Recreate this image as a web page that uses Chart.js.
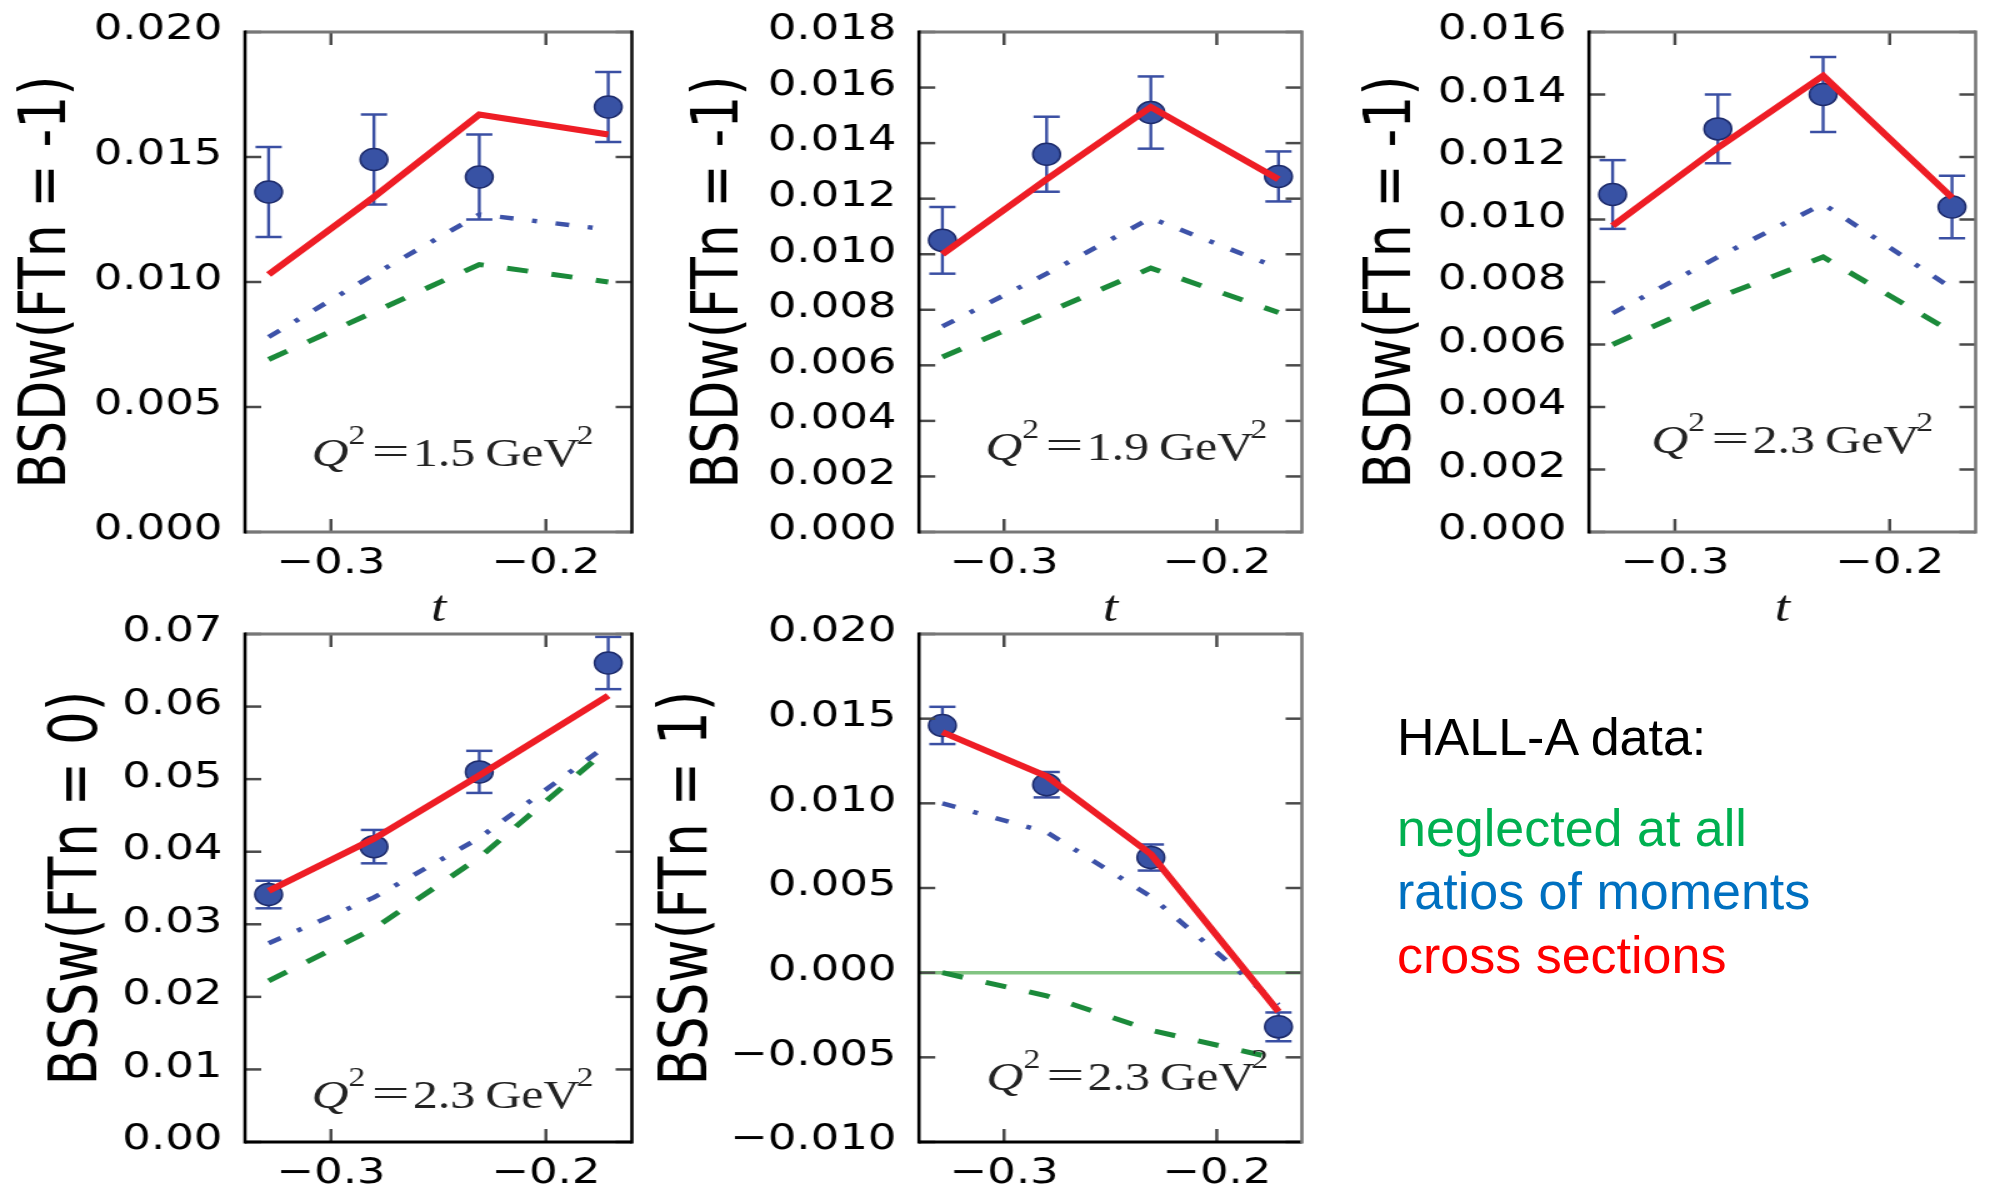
<!DOCTYPE html>
<html>
<head>
<meta charset="utf-8">
<title>Hall-A BSDw / BSSw vs t</title>
<script src="https://cdn.jsdelivr.net/npm/chart.js@4.4.1/dist/chart.umd.min.js"></script>
<style>
  html, body { margin: 0; padding: 0; background: #fff; }
  body { width: 1992px; height: 1185px; position: relative; overflow: hidden; }
  .panel { position: absolute; transform: scaleX(1.25); transform-origin: 0 0; }
  .panel canvas { display: block; }
  .note { position: absolute; left: 1397px; font-family: "Liberation Sans", Arial, sans-serif;
          font-size: 52px; line-height: 52px; white-space: nowrap; }
</style>
</head>
<body>
<div class="panel" style="left:0px;top:0px"><canvas id="p1"></canvas></div>
<div class="panel" style="left:660px;top:0px"><canvas id="p2"></canvas></div>
<div class="panel" style="left:1330px;top:0px"><canvas id="p3"></canvas></div>
<div class="panel" style="left:0px;top:590px"><canvas id="p4"></canvas></div>
<div class="panel" style="left:620px;top:590px"><canvas id="p5"></canvas></div>

<div class="note" style="top:711px;color:#000">HALL-A data:</div>
<div class="note" style="top:802px;color:#00b050">neglected at all</div>
<div class="note" style="top:865px;color:#0070c0">ratios of moments</div>
<div class="note" style="top:929px;color:#ff0000">cross sections</div>

<script>
// t bins of the Hall-A data (same in every panel)
const tValues = [-0.329, -0.280, -0.231, -0.171];
const xRange = [-0.34, -0.16];
const xTicks = [-0.3, -0.2];

// BSDw(FTn = -1), Q^2 = 1.5 GeV^2
const bsdw15Data = [0.0136, 0.0149, 0.0142, 0.0170];
const bsdw15Err = [0.0018, 0.0018, 0.0017, 0.0014];
const bsdw15Cross = [0.0103, 0.0134, 0.0167, 0.0159];
const bsdw15Ratios = [0.0078, 0.0103, 0.0127, 0.0121];
const bsdw15Neglect = [0.0069, 0.0088, 0.0107, 0.0100];

// BSDw(FTn = -1), Q^2 = 1.9 GeV^2
const bsdw19Data = [0.0105, 0.0136, 0.0151, 0.0128];
const bsdw19Err = [0.0012, 0.00135, 0.0013, 0.0009];
const bsdw19Cross = [0.0100, 0.0127, 0.0153, 0.0127];
const bsdw19Ratios = [0.0074, 0.0093, 0.0113, 0.0095];
const bsdw19Neglect = [0.0063, 0.0079, 0.0095, 0.0079];

// BSDw(FTn = -1), Q^2 = 2.3 GeV^2
const bsdw23Data = [0.0108, 0.0129, 0.0140, 0.0104];
const bsdw23Err = [0.0011, 0.0011, 0.0012, 0.0010];
const bsdw23Cross = [0.0098, 0.0123, 0.0146, 0.0107];
const bsdw23Ratios = [0.0070, 0.0088, 0.0105, 0.0078];
const bsdw23Neglect = [0.0060, 0.0075, 0.0088, 0.0064];

// BSSw(FTn = 0), Q^2 = 2.3 GeV^2
const bss0Data = [0.0341, 0.0407, 0.0510, 0.0660];
const bss0Err = [0.0019, 0.0023, 0.0029, 0.0036];
const bss0Cross = [0.0346, 0.0418, 0.0505, 0.0615];
const bss0Ratios = [0.0274, 0.0337, 0.0419, 0.0548];
const bss0Neglect = [0.0222, 0.0294, 0.0392, 0.0542];

// BSSw(FTn = 1), Q^2 = 2.3 GeV^2
const bss1Data = [0.0146, 0.0111, 0.0068, -0.0032];
const bss1Err = [0.0011, 0.00075, 0.00077, 0.00085];
const bss1Cross = [0.0142, 0.0116, 0.0070, -0.0023];
const bss1Ratios = [0.0100, 0.0083, 0.0045, -0.0019];
const bss1Neglect = [0.0000, -0.00137, -0.0034, -0.0051];
const zeroLine = [0, 0];

// y tick values
const yTicks1 = [0, 0.005, 0.010, 0.015, 0.020];
const yTicks2 = [0, 0.002, 0.004, 0.006, 0.008, 0.010, 0.012, 0.014, 0.016, 0.018];
const yTicks3 = [0, 0.002, 0.004, 0.006, 0.008, 0.010, 0.012, 0.014, 0.016];
const yTicks4 = [0, 0.01, 0.02, 0.03, 0.04, 0.05, 0.06, 0.07];
const yTicks5 = [-0.010, -0.005, 0, 0.005, 0.010, 0.015, 0.020];

const STRETCH = 1.25; // the original figure is stretched sideways

const panels = [
  { id: 'p1', left: 0, top: 0, plotL: 245, plotR: 640, plotT: 32, plotB: 532, xAxisH: 104,
    yTicks: yTicks1, digits: 3, title: 'BSDw(FTn = -1)', titleSize: 52, titlePad: 7,
    q2: '1.5', q2Pos: [0.172, 0.132], showT: true,
    data: bsdw15Data, err: bsdw15Err, cross: bsdw15Cross, ratios: bsdw15Ratios, neglect: bsdw15Neglect,
    spines: { left: '#000', right: '#111', top: '#777', bottom: '#777' } },
  { id: 'p2', left: 660, top: 0, plotL: 919, plotR: 1310, plotT: 32, plotB: 532, xAxisH: 104,
    yTicks: yTicks2, digits: 3, title: 'BSDw(FTn = -1)', titleSize: 52, titlePad: 17,
    q2: '1.9', q2Pos: [0.173, 0.144], showT: true,
    data: bsdw19Data, err: bsdw19Err, cross: bsdw19Cross, ratios: bsdw19Ratios, neglect: bsdw19Neglect,
    spines: { left: '#000', right: '#777', top: '#777', bottom: '#777' } },
  { id: 'p3', left: 1330, top: 0, plotL: 1589, plotR: 1984, plotT: 32, plotB: 532, xAxisH: 104,
    yTicks: yTicks3, digits: 3, title: 'BSDw(FTn = -1)', titleSize: 52, titlePad: 19.5,
    q2: '2.3', q2Pos: [0.161, 0.159], showT: true,
    data: bsdw23Data, err: bsdw23Err, cross: bsdw23Cross, ratios: bsdw23Ratios, neglect: bsdw23Neglect,
    spines: { left: '#000', right: '#777', top: '#777', bottom: '#777' } },
  { id: 'p4', left: 0, top: 590, plotL: 245, plotR: 640, plotT: 634, plotB: 1142, xAxisH: 43,
    yTicks: yTicks4, digits: 2, title: 'BSSw(FTn = 0)', titleSize: 53, titlePad: 31,
    q2: '2.3', q2Pos: [0.172, 0.067], showT: false,
    data: bss0Data, err: bss0Err, cross: bss0Cross, ratios: bss0Ratios, neglect: bss0Neglect,
    spines: { left: '#000', right: '#000', top: '#777', bottom: '#000' } },
  { id: 'p5', left: 620, top: 590, plotL: 919, plotR: 1310, plotT: 634, plotB: 1142, xAxisH: 43,
    yTicks: yTicks5, digits: 3, title: 'BSSw(FTn = 1)', titleSize: 53, titlePad: 23,
    q2: '2.3', q2Pos: [0.176, 0.102], showT: false, zero: true,
    data: bss1Data, err: bss1Err, cross: bss1Cross, ratios: bss1Ratios, neglect: bss1Neglect,
    spines: { left: '#000', right: '#777', top: '#777', bottom: '#000' } }
];

function pts(ys) {
  return ys.map((y, i) => ({ x: tValues[i], y: y }));
}

function fmt(v, digits) {
  return (v < 0 ? '\u2212' : '') + Math.abs(v).toFixed(digits);
}

function seg(ctx, x1, y1, x2, y2) {
  ctx.beginPath();
  ctx.moveTo(x1, y1);
  ctx.lineTo(x2, y2);
  ctx.stroke();
}

// error bars under the lines, frame / inner ticks / Q^2 note on top
function decor(p) {
  return {
    id: 'decor',
    beforeDatasetsDraw(chart) {
      const { ctx, scales: { x, y } } = chart;
      ctx.save();
      ctx.strokeStyle = '#3a4fa3';
      p.data.forEach((v, i) => {
        const px = x.getPixelForValue(tValues[i]);
        const hi = y.getPixelForValue(v + p.err[i]);
        const lo = y.getPixelForValue(v - p.err[i]);
        ctx.lineWidth = 2.4;
        seg(ctx, px, hi, px, lo);
        ctx.lineWidth = 2.5;
        seg(ctx, px - 10.5, hi, px + 10.5, hi);
        seg(ctx, px - 10.5, lo, px + 10.5, lo);
      });
      ctx.restore();
    },
    afterDatasetsDraw(chart) {
      const { ctx, chartArea: a, scales: { x, y } } = chart;
      ctx.save();
      // inner ticks on all four sides
      ctx.strokeStyle = '#4a4a4a';
      ctx.lineWidth = 2.5;
      xTicks.forEach(v => {
        const px = x.getPixelForValue(v);
        seg(ctx, px, a.bottom, px, a.bottom - 13);
        seg(ctx, px, a.top, px, a.top + 13);
      });
      p.yTicks.forEach(v => {
        const py = y.getPixelForValue(v);
        seg(ctx, a.left, py, a.left + 13, py);
        seg(ctx, a.right, py, a.right - 13, py);
      });
      // frame
      ctx.lineWidth = 3;
      ctx.strokeStyle = p.spines.top; seg(ctx, a.left, a.top, a.right, a.top);
      ctx.strokeStyle = p.spines.bottom; seg(ctx, a.left, a.bottom, a.right, a.bottom);
      ctx.lineWidth = 2.6;
      ctx.strokeStyle = p.spines.right; seg(ctx, a.right, a.top - 1.5, a.right, a.bottom + 1.5);
      ctx.strokeStyle = p.spines.left; seg(ctx, a.left, a.top - 1.5, a.left, a.bottom + 1.5);

      // Q^2 = ... GeV^2
      const bx = a.left + p.q2Pos[0] * (a.right - a.left);
      const by = a.bottom - p.q2Pos[1] * (a.bottom - a.top);
      ctx.fillStyle = '#222';
      ctx.textAlign = 'left';
      ctx.textBaseline = 'alphabetic';
      ctx.font = 'italic 41px "Liberation Serif"';
      ctx.fillText('Q', bx, by);
      ctx.font = '27px "Liberation Serif"';
      ctx.fillText('2', bx + 29.6, by - 22);
      ctx.save();
      ctx.translate(bx + 48, by - 1);
      ctx.scale(1.35, 1);
      ctx.font = '40px "Liberation Serif"';
      ctx.fillText('=', 0, 0);
      ctx.restore();
      ctx.font = '40px "Liberation Serif"';
      ctx.fillText(p.q2, bx + 81, by);
      ctx.fillText('GeV', bx + 139, by);
      ctx.font = '27px "Liberation Serif"';
      ctx.fillText('2', bx + 212, by - 22);
      ctx.restore();
    }
  };
}

function makePanel(p) {
  const canvas = document.getElementById(p.id);
  const padRight = 6;
  canvas.width = Math.round((p.plotR - p.left) / STRETCH + padRight);
  canvas.height = p.plotB + p.xAxisH - p.top;
  const yScaleW = (p.plotL - p.left) / STRETCH;

  const datasets = [
    { label: 'cross sections', data: pts(p.cross), showLine: true, borderColor: '#ee1d25',
      borderWidth: 6, pointRadius: 0, borderJoinStyle: 'miter', order: 0 },
    { label: 'HALL-A data', data: pts(p.data), showLine: false, pointRadius: 11,
      pointBackgroundColor: '#3852a4', pointBorderColor: '#1e2c6c', pointBorderWidth: 1.5, order: 1 },
    { label: 'ratios of moments', data: pts(p.ratios), showLine: true, borderColor: '#3d52a8',
      borderWidth: 4.5, borderDash: [11, 15, 4, 15], pointRadius: 0, order: 2 },
    { label: 'neglected at all', data: pts(p.neglect), showLine: true, borderColor: '#1b8a3a',
      borderWidth: 5, borderDash: [17, 19], pointRadius: 0, order: 3 }
  ];
  if (p.zero) {
    datasets.push({ label: 'zero', data: xRange.map((x, i) => ({ x: x, y: zeroLine[i] })),
      showLine: true, borderColor: '#82c482', borderWidth: 3.5, pointRadius: 0, order: 4 });
  }

  new Chart(canvas, {
    type: 'scatter',
    data: { datasets: datasets },
    options: {
      responsive: false,
      animation: false,
      devicePixelRatio: 1,
      events: [],
      layout: { padding: { top: p.plotT - p.top, right: padRight, left: 0, bottom: 0 } },
      plugins: { legend: { display: false }, tooltip: { enabled: false } },
      scales: {
        x: {
          type: 'linear', min: xRange[0], max: xRange[1],
          grid: { display: false }, border: { display: false },
          afterBuildTicks: s => { s.ticks = xTicks.map(v => ({ value: v })); },
          afterFit: s => { s.height = p.xAxisH; },
          ticks: { autoSkip: false, maxRotation: 0, padding: 2, color: '#000',
                   font: { family: 'DejaVu Sans', size: 36 },
                   callback: v => fmt(v, 1) },
          title: { display: p.showT, text: 't', color: '#111', padding: { top: 0, bottom: 0 },
                   font: { family: 'Liberation Serif', style: 'italic', size: 44 } }
        },
        y: {
          type: 'linear', min: p.yTicks[0], max: p.yTicks[p.yTicks.length - 1],
          grid: { display: false }, border: { display: false },
          afterBuildTicks: s => { s.ticks = p.yTicks.map(v => ({ value: v })); },
          afterFit: s => { s.width = yScaleW; },
          ticks: { autoSkip: false, padding: 10, labelOffset: -2, color: '#000',
                   font: { family: 'DejaVu Sans', size: 36 },
                   callback: v => fmt(v, p.digits) },
          title: { display: true, text: p.title, color: '#000', padding: { top: p.titlePad, bottom: 0 },
                   font: { family: 'DejaVu Sans', size: p.titleSize } }
        }
      }
    },
    plugins: [decor(p)]
  });
}

panels.forEach(makePanel);
</script>
</body>
</html>
